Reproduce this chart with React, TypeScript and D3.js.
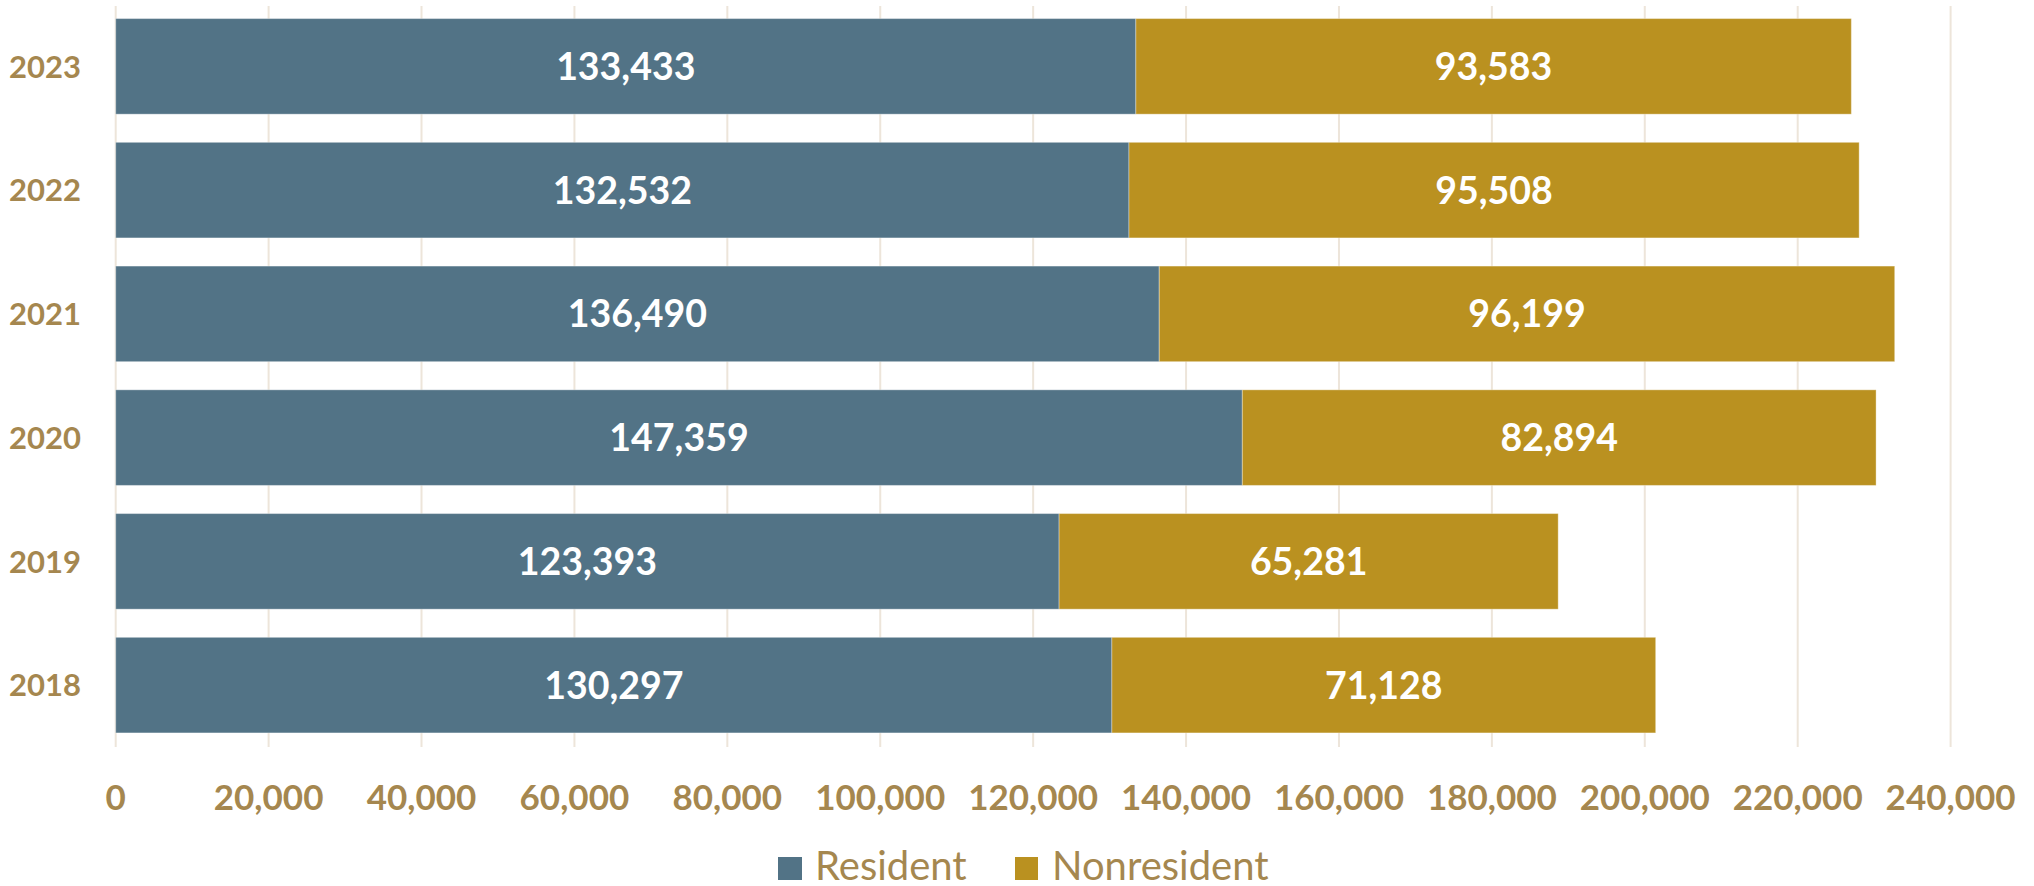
import React from "react";
import * as d3 from "d3";

const years = ["2023", "2022", "2021", "2020", "2019", "2018"];
const resident = [133433, 132532, 136490, 147359, 123393, 130297];
const nonresident = [93583, 95508, 96199, 82894, 65281, 71128];
const xTicks = [0, 20000, 40000, 60000, 80000, 100000, 120000, 140000, 160000, 180000, 200000, 220000, 240000];
const seriesNames = ["Resident", "Nonresident"];
const colors = ["#527386", "#BA9120"];

const W = 2034;
const H = 886;
const labelColor = "#A5874F";
const fmt = d3.format(",");

export default function App() {
  const x = d3.scaleLinear().domain([0, 240000]).range([115.7, 1950.6]);
  const y = d3.scaleBand().domain(years).range([4.5, 747]).paddingInner(0.2275).paddingOuter(0.11375);
  const bw = y.bandwidth();

  return (
    <svg width={W} height={H} style={{ position: "absolute", left: 0, top: 0, background: "#fff" }}>
      {xTicks.map((t) => (
        <line key={"g" + t} x1={x(t)} x2={x(t)} y1={6} y2={747} stroke="#EDE5DA" strokeWidth={2} />
      ))}
      {years.map((yr, i) => {
        const y0 = y(yr)!;
        const r = resident[i];
        const n = nonresident[i];
        return (
          <g key={yr}>
            <rect x={x(0)} y={y0} width={x(r) - x(0)} height={bw} fill={colors[0]} stroke="rgba(255,255,255,0.35)" strokeWidth={1} />
            <rect x={x(r)} y={y0} width={x(r + n) - x(r)} height={bw} fill={colors[1]} stroke="rgba(255,255,255,0.35)" strokeWidth={1} />
            <text x={(x(0) + x(r)) / 2} y={y0 + bw / 2} dy="0.36em" textAnchor="middle" fill="#fff"
              fontFamily="Lato" fontWeight={700} fontSize={37.5}>{fmt(r)}</text>
            <text x={(x(r) + x(r + n)) / 2} y={y0 + bw / 2} dy="0.36em" textAnchor="middle" fill="#fff"
              fontFamily="Lato" fontWeight={700} fontSize={37.5}>{fmt(n)}</text>
            <text x={81} y={y0 + bw / 2} dy="0.36em" textAnchor="end" fill={labelColor}
              fontFamily="Lato" fontWeight={700} fontSize={31}>{yr}</text>
          </g>
        );
      })}
      {xTicks.map((t) => (
        <text key={"t" + t} x={x(t)} y={810} textAnchor="middle" fill={labelColor}
          fontFamily="Lato" fontWeight={700} fontSize={35}>{fmt(t)}</text>
      ))}
      <g>
        <rect x={778} y={857} width={24} height={23} fill={colors[0]} />
        <text x={815} y={880} fill={labelColor} fontFamily="Lato" fontSize={40}>{seriesNames[0]}</text>
        <rect x={1015} y={857} width={23} height={23} fill={colors[1]} />
        <text x={1052} y={880} fill={labelColor} fontFamily="Lato" fontSize={40}>{seriesNames[1]}</text>
      </g>
    </svg>
  );
}
